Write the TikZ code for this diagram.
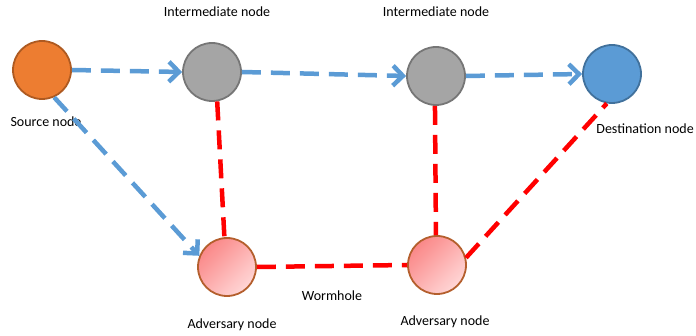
\documentclass[tikz,border=0pt]{standalone}
\usepackage{fontspec}
\setmainfont{Carlito}
\usetikzlibrary{arrows.meta}

\definecolor{srcfill}{RGB}{237,125,49}
\definecolor{srcline}{RGB}{174,90,33}
\definecolor{midfill}{RGB}{165,165,165}
\definecolor{midline}{RGB}{118,118,118}
\definecolor{dstfill}{RGB}{91,155,213}
\definecolor{dstline}{RGB}{65,113,156}
\definecolor{advdark}{RGB}{250,135,135}
\definecolor{advlight}{RGB}{255,215,215}
\definecolor{advline}{RGB}{180,95,45}
\definecolor{bluelink}{RGB}{91,155,213}
\definecolor{redlink}{RGB}{255,0,0}

\tikzset{
  peer/.style={circle, minimum size=58pt, inner sep=0pt, line width=1.8pt},
  bluehop/.style={line width=4.5pt, color=bluelink, dash pattern=on 19pt off 10pt,
    -{Straight Barb[length=10pt, width=20pt, line width=4.5pt]}},
  redhop/.style={line width=4.5pt, color=redlink, dash pattern=on 19pt off 10pt},
  tag/.style={font=\fontsize{14}{16}\selectfont, inner sep=0pt}
}

\begin{document}
\begin{tikzpicture}[x=1pt, y=-1pt]
		%%%%% START %%%%%
		\useasboundingbox (0, 0) rectangle (696, 336);
		
		\node[peer, draw=srcline, fill=srcfill] (src) at (42, 70) {};
		\node[peer, draw=midline, fill=midfill] (mid1) at (212, 72) {};
		\node[peer, draw=midline, fill=midfill] (mid2) at (436, 76) {};
		\node[peer, draw=dstline, fill=dstfill] (dst) at (612, 74) {};
		\node[peer, draw=advline, shading=axis, top color=advdark, bottom color=advlight, shading angle=45] (adv1) at (227, 267) {};
		\node[peer, draw=advline, shading=axis, top color=advdark, bottom color=advlight, shading angle=45] (adv2) at (437, 265) {};
		
		\node[tag] (srctag) at (46, 122) {Source node};
		\node[tag] (mid1tag) at (217, 12) {Intermediate node};
		\node[tag] (mid2tag) at (436, 12) {Intermediate node};
		\node[tag, anchor=east] (dsttag) at (694, 129) {Destination node};
		\node[tag] (holetag) at (332, 296) {Wormhole};
		\node[tag] (adv1tag) at (232, 325) {Adversary node};
		\node[tag] (adv2tag) at (445, 322) {Adversary node};
		
		% forward path
		\draw[bluehop] (src.east) -- (mid1.west);
		\draw[bluehop] (mid1.east) -- (mid2.west);
		\draw[bluehop] (mid2.east) -- (dst.west);
		\draw[bluehop] (src.-66) -- (adv1.158);
		
		% wormhole path
		\draw[redhop] (mid1.-80) -- (adv1.95);
		\draw[redhop] (mid2.-92) -- (adv2.92);
		\draw[redhop] (adv1.east) -- (adv2.west);
		\draw[redhop] (adv2.14) -- (dst.-100);
		
		%%%%% END %%%%%
	\end{tikzpicture}
\end{document}
